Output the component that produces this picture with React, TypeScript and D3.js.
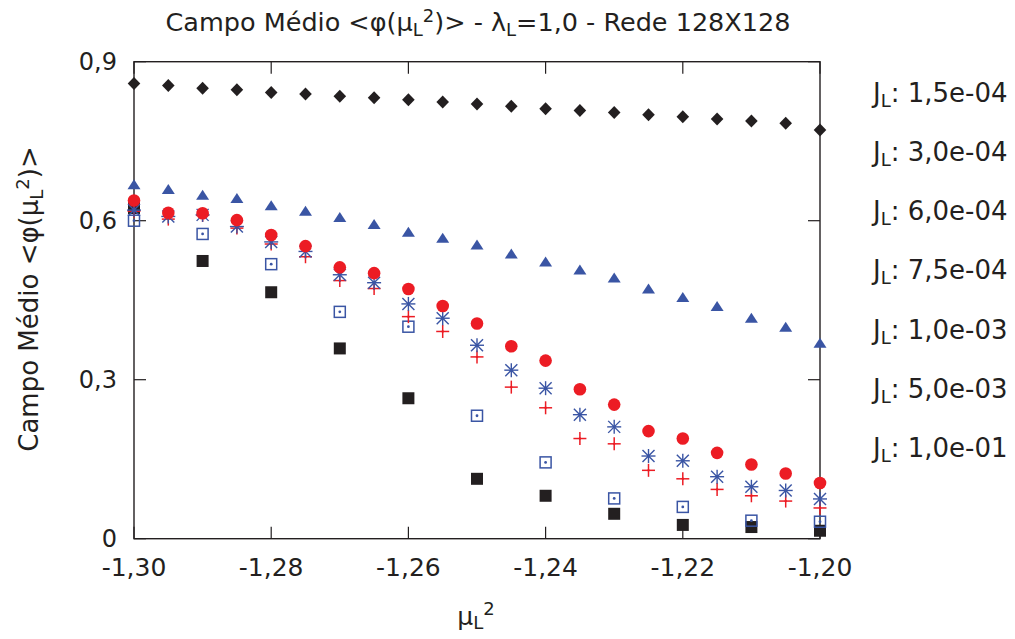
import React from "react";
import * as d3 from "d3";

// ---- data ----
const xFine = [-1.3, -1.295, -1.29, -1.285, -1.28, -1.275, -1.27, -1.265, -1.26, -1.255, -1.25, -1.245, -1.24, -1.235, -1.23, -1.225, -1.22, -1.215, -1.21, -1.205, -1.2];
const xCoarse = [-1.3, -1.29, -1.28, -1.27, -1.26, -1.25, -1.24, -1.23, -1.22, -1.21, -1.2];

const jBlackSquare = [0.624, 0.524, 0.465, 0.359, 0.265, 0.113, 0.081, 0.047, 0.026, 0.022, 0.015]; // 1.5e-4
const jOpenSquare = [0.600, 0.575, 0.518, 0.428, 0.400, 0.232, 0.144, 0.076, 0.060, 0.034, 0.032]; // 3.0e-4
const jPlus = [0.618, 0.603, 0.610, 0.586, 0.556, 0.532, 0.487, 0.472, 0.419, 0.391, 0.343, 0.286, 0.247, 0.189, 0.179, 0.129, 0.113, 0.093, 0.081, 0.071, 0.058]; // 6.0e-4
const jStar = [0.620, 0.608, 0.611, 0.589, 0.560, 0.542, 0.498, 0.483, 0.443, 0.416, 0.365, 0.318, 0.284, 0.234, 0.211, 0.156, 0.147, 0.117, 0.098, 0.091, 0.075]; // 7.5e-4
const jCircle = [0.638, 0.615, 0.614, 0.601, 0.573, 0.552, 0.512, 0.501, 0.471, 0.439, 0.406, 0.363, 0.336, 0.282, 0.253, 0.203, 0.189, 0.162, 0.140, 0.123, 0.105]; // 1.0e-3
const jTriangle = [0.668, 0.659, 0.648, 0.642, 0.628, 0.618, 0.606, 0.593, 0.578, 0.567, 0.554, 0.537, 0.522, 0.507, 0.492, 0.471, 0.455, 0.438, 0.416, 0.399, 0.369]; // 5.0e-3
const jDiamond = [0.859, 0.855, 0.850, 0.847, 0.842, 0.839, 0.835, 0.832, 0.828, 0.824, 0.820, 0.816, 0.811, 0.808, 0.804, 0.800, 0.796, 0.792, 0.788, 0.784, 0.771]; // 1.0e-1

const legendLabels = ["1,5e-04", "3,0e-04", "6,0e-04", "7,5e-04", "1,0e-03", "5,0e-03", "1,0e-01"];
const xTicks = [-1.3, -1.28, -1.26, -1.24, -1.22, -1.2];
const xTickLabels = ["-1,30", "-1,28", "-1,26", "-1,24", "-1,22", "-1,20"];
const yTicks = [0, 0.3, 0.6, 0.9];
const yTickLabels = ["0", "0,3", "0,6", "0,9"];

const RED = "#ec1c24";
const BLUE = "#3a55a4";
const BLACK = "#231f20";
const FONT = "DejaVu Sans";

export default function App() {
  const W = 1015, H = 639;
  const left = 134, right = 820, top = 61.7, bottom = 538.7;
  const x = d3.scaleLinear().domain([-1.3, -1.2]).range([left, right]);
  const y = d3.scaleLinear().domain([0, 0.9]).range([bottom, top]);
  const tl = 12;

  const pts = (xs: number[], ys: number[]) => xs.map((xv, i) => [x(xv), y(ys[i])]);

  return (
    <svg width={W} height={H} style={{ position: "absolute", left: 0, top: 0, background: "#fff" }} fontFamily={FONT}>
      <rect x={0} y={0} width={W} height={H} fill="#fff" />
      {/* title */}
      <text x={478} y={31} fontSize={25.5} textAnchor="middle" fill={BLACK}>
        Campo Médio &lt;φ(μ<tspan fontSize={18} dy={5}>L</tspan><tspan fontSize={18} dy={-14}>2</tspan><tspan dy={9}>)&gt; - λ</tspan><tspan fontSize={18} dy={5}>L</tspan><tspan dy={-5}>=1,0 - Rede 128X128</tspan>
      </text>

      {/* frame */}
      <rect x={left} y={top} width={right - left} height={bottom - top} fill="none" stroke={BLACK} strokeWidth={1.4} />
      {xTicks.map((t, i) => (
        <g key={"xt" + i}>
          <line x1={x(t)} x2={x(t)} y1={bottom} y2={bottom - tl} stroke={BLACK} strokeWidth={1.2} />
          <line x1={x(t)} x2={x(t)} y1={top} y2={top + tl} stroke={BLACK} strokeWidth={1.2} />
          <text x={x(t)} y={576} fontSize={25} textAnchor="middle" fill={BLACK}>{xTickLabels[i]}</text>
        </g>
      ))}
      {yTicks.map((t, i) => (
        <g key={"yt" + i}>
          <line x1={left} x2={left + tl} y1={y(t)} y2={y(t)} stroke={BLACK} strokeWidth={1.2} />
          <line x1={right} x2={right - tl} y1={y(t)} y2={y(t)} stroke={BLACK} strokeWidth={1.2} />
          <text x={117} y={y(t) + 8.5} fontSize={24} textAnchor="end" fill={BLACK}>{yTickLabels[i]}</text>
        </g>
      ))}

      {/* axis labels */}
      <text transform={`translate(38,${299}) rotate(-90)`} fontSize={26} textAnchor="middle" fill={BLACK}>
        Campo Médio &lt;φ(μ<tspan fontSize={18} dy={5}>L</tspan><tspan fontSize={18} dy={-14}>2</tspan><tspan dy={9}>)&gt;</tspan>
      </text>
      <text x={476} y={625} fontSize={25} textAnchor="middle" fill={BLACK}>
        μ<tspan fontSize={18} dy={4}>L</tspan><tspan fontSize={18} dy={-14}>2</tspan>
      </text>

      {/* black filled squares */}
      {pts(xCoarse, jBlackSquare).map(([px, py], i) => (
        <rect key={"bs" + i} x={px - 6} y={py - 6} width={12} height={12} fill={BLACK} />
      ))}
      {/* open squares with dot */}
      {pts(xCoarse, jOpenSquare).map(([px, py], i) => (
        <g key={"os" + i}>
          <rect x={px - 5.5} y={py - 5.5} width={11} height={11} fill="none" stroke={BLUE} strokeWidth={1.5} />
          <circle cx={px} cy={py} r={1.4} fill={BLUE} />
        </g>
      ))}
      {/* plus */}
      {pts(xFine, jPlus).map(([px, py], i) => (
        <g key={"pl" + i} stroke={RED} strokeWidth={1.5}>
          <line x1={px - 6.5} x2={px + 6.5} y1={py} y2={py} />
          <line x1={px} x2={px} y1={py - 6.5} y2={py + 6.5} />
          <circle cx={px} cy={py} r={1.2} fill={RED} stroke="none" />
        </g>
      ))}
      {/* asterisks */}
      {pts(xFine, jStar).map(([px, py], i) => (
        <g key={"st" + i} stroke={BLUE} strokeWidth={1.4}>
          <line x1={px - 7} x2={px + 7} y1={py} y2={py} />
          <line x1={px} x2={px} y1={py - 7} y2={py + 7} />
          <line x1={px - 6} x2={px + 6} y1={py - 6} y2={py + 6} />
          <line x1={px - 6} x2={px + 6} y1={py + 6} y2={py - 6} />
          <circle cx={px} cy={py} r={1.6} fill={BLUE} stroke="none" />
        </g>
      ))}
      {/* circles */}
      {pts(xFine, jCircle).map(([px, py], i) => (
        <circle key={"ci" + i} cx={px} cy={py} r={6.3} fill={RED} />
      ))}
      {/* triangles */}
      {pts(xFine, jTriangle).map(([px, py], i) => (
        <path key={"tr" + i} d={`M${px},${py - 5.5}L${px + 6.5},${py + 4.5}L${px - 6.5},${py + 4.5}Z`} fill={BLUE} />
      ))}
      {/* diamonds */}
      {pts(xFine, jDiamond).map(([px, py], i) => (
        <path key={"di" + i} d={`M${px},${py - 6.5}L${px + 6.3},${py}L${px},${py + 6.5}L${px - 6.3},${py}Z`} fill={BLACK} />
      ))}

      {/* legend (text only) */}
      {legendLabels.map((lab, i) => (
        <text key={"lg" + i} x={873} y={101.7 + i * 59.2} fontSize={26} fill={BLACK}>
          J<tspan fontSize={18} dy={5}>L</tspan><tspan dy={-5}>: {lab}</tspan>
        </text>
      ))}
    </svg>
  );
}
